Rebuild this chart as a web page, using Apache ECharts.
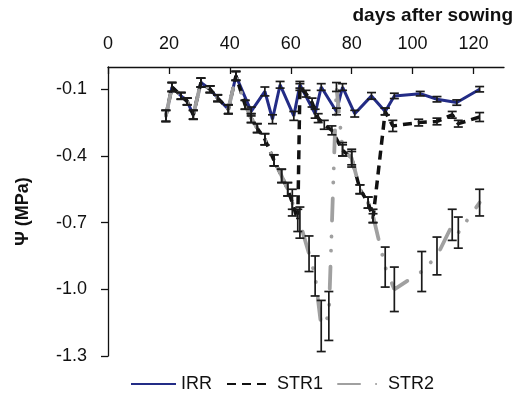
<!DOCTYPE html>
<html><head><meta charset="utf-8">
<script src="https://cdn.jsdelivr.net/npm/echarts@6/dist/echarts.min.js"></script>
<style>html,body{margin:0;padding:0;background:#fff}#c{width:522px;height:394px}</style>
</head><body><div id="c"></div>
<script>
const xTicks=[0,20,40,60,80,100,120];
const yTicks=[-1.3,-1.0,-0.7,-0.4,-0.1];
const seriesNames=['IRR','STR1','STR2'];

const irrDays=[19,21,24,26,28,30.5,33.5,36,39.5,42,47,51.5,54,56.5,61,63,68,70,75,77,81,86.5,91,94,102.5,108,114.5,122];
const irrVals=[-0.22,-0.09,-0.13,-0.155,-0.215,-0.07,-0.10,-0.14,-0.19,-0.04,-0.20,-0.11,-0.235,-0.08,-0.22,-0.08,-0.21,-0.09,-0.20,-0.09,-0.21,-0.13,-0.20,-0.13,-0.12,-0.145,-0.16,-0.10];
const irrErr=[0.025,0.02,0.015,0.015,0.02,0.02,0.015,0.015,0.02,0.02,0.02,0.02,0.02,0.015,0.02,0.015,0.02,0.015,0.015,0.015,0.015,0.015,0.015,0.012,0.01,0.012,0.012,0.012];

const str1Days=[19,21,24,26,28,30.5,33.5,36,39.5,42,45,47,49,51.5,54.5,57,59,60.5,62.3,63,65,67,69,71,73.5,77,80,82.7,85.4,87,91,93.5,102,108,113,115,122];
const str1Vals=[-0.22,-0.09,-0.13,-0.155,-0.215,-0.07,-0.10,-0.14,-0.19,-0.04,-0.17,-0.23,-0.275,-0.325,-0.42,-0.49,-0.55,-0.61,-0.69,-0.09,-0.12,-0.16,-0.23,-0.26,-0.285,-0.375,-0.41,-0.55,-0.61,-0.68,-0.20,-0.265,-0.25,-0.245,-0.215,-0.255,-0.225];
const str1Err=[0.025,0.02,0.015,0.015,0.02,0.02,0.015,0.015,0.02,0.02,0.02,0.02,0.02,0.025,0.025,0.03,0.03,0.03,0.05,0.015,0.015,0.02,0.02,0.02,0.02,0.025,0.03,0.02,0.025,0.02,0.015,0.025,0.015,0.015,0.015,0.015,0.02];

const str2Days=[19,21,24,26,28,30.5,33.5,36,39.5,42,45,47,49,51.5,54.5,57,59,60.5,63,66,68,70,72.5,75,77,80,82.7,85.4,87,91,94,103,108,113,115,122];
const str2Vals=[-0.22,-0.09,-0.13,-0.155,-0.215,-0.07,-0.10,-0.14,-0.19,-0.04,-0.17,-0.23,-0.275,-0.325,-0.42,-0.49,-0.55,-0.61,-0.70,-0.84,-0.94,-1.165,-1.12,-0.09,-0.37,-0.41,-0.55,-0.61,-0.67,-0.90,-1.00,-0.92,-0.85,-0.71,-0.745,-0.61];
const str2Err=[0.025,0.02,0.015,0.015,0.02,0.02,0.015,0.015,0.02,0.02,0.02,0.02,0.02,0.025,0.025,0.03,0.03,0.06,0.07,0.08,0.09,0.115,0.11,0.02,0.03,0.04,0.02,0.025,0.03,0.09,0.10,0.09,0.085,0.07,0.07,0.06];

const FONT='Liberation Sans, Arial, sans-serif';
const pts=(d,v)=>d.map((x,i)=>[x,v[i]]);
const errs=(d,v,e)=>d.map((x,i)=>[x,v[i]-e[i],v[i]+e[i]]);

function errRender(params,api){
  const x=api.value(0),lo=api.value(1),hi=api.value(2);
  const p1=api.coord([x,hi]),p2=api.coord([x,lo]);
  const w=4.5;
  const style={stroke:'#1a1a1a',lineWidth:1.7};
  return {type:'group',children:[
    {type:'line',shape:{x1:p1[0],y1:p1[1],x2:p2[0],y2:p2[1]},style:style},
    {type:'line',shape:{x1:p1[0]-w,y1:p1[1],x2:p1[0]+w,y2:p1[1]},style:style},
    {type:'line',shape:{x1:p2[0]-w,y1:p2[1],x2:p2[0]+w,y2:p2[1]},style:style}
  ]};
}
function errSeries(data){
  return {type:'custom',renderItem:errRender,data:data,encode:{x:0,y:[1,2]},z:10,silent:true};
}

const chart=echarts.init(document.getElementById('c'),null,{renderer:'canvas'});
chart.setOption({
  animation:false,
  backgroundColor:'#fff',
  title:{text:'days after sowing',right:4,top:1,textStyle:{fontFamily:FONT,fontSize:19,fontWeight:'bold',color:'#111'}},
  grid:{left:108,top:67,right:18,bottom:38,containLabel:false},
  legend:{left:130,top:375,padding:0,itemWidth:45,itemHeight:14,itemGap:14,
    itemStyle:{opacity:0},
    textStyle:{fontFamily:FONT,fontSize:18,color:'#111'},
    data:seriesNames},
  xAxis:{type:'value',position:'top',min:0,max:130,
    axisLine:{show:true,lineStyle:{color:'#111',width:1.3}},
    axisTick:{show:true,inside:true,length:7,lineStyle:{color:'#111',width:1.3},customValues:xTicks},
    axisLabel:{fontFamily:FONT,fontSize:18,color:'#111',margin:14,customValues:xTicks},
    splitLine:{show:false}},
  yAxis:{type:'value',min:-1.3,max:0,
    name:'\u03a8 (MPa)',nameLocation:'middle',nameGap:76,
    nameTextStyle:{fontFamily:FONT,fontSize:18,fontWeight:'bold',color:'#111'},
    axisLine:{show:true,lineStyle:{color:'#111',width:1.3}},
    axisTick:{show:true,inside:false,length:7,lineStyle:{color:'#111',width:1.3},customValues:yTicks},
    axisLabel:{fontFamily:FONT,fontSize:18,color:'#111',margin:21,customValues:yTicks,
      formatter:v=>v.toFixed(1)},
    splitLine:{show:false}},
  series:[
    {name:'IRR',type:'line',data:pts(irrDays,irrVals),symbol:'none',z:2,
      lineStyle:{color:'#232c86',width:3},itemStyle:{color:'#232c86',opacity:0}},
    {name:'STR1',type:'line',data:pts(str1Days,str1Vals),symbol:'none',z:3,
      lineStyle:{color:'#111',width:3.5,type:[9,6]},itemStyle:{color:'#111',opacity:0}},
    {name:'STR2',type:'line',data:pts(str2Days,str2Vals),symbol:'none',z:4,
      lineStyle:{color:'#a0a0a0',width:3.8,type:[22,16,0.1,14,0.1,16],cap:'round'},itemStyle:{color:'#a0a0a0',opacity:0}},
    errSeries(errs(irrDays,irrVals,irrErr)),
    errSeries(errs(str1Days,str1Vals,str1Err)),
    errSeries(errs(str2Days,str2Vals,str2Err))
  ]
});
</script></body></html>
